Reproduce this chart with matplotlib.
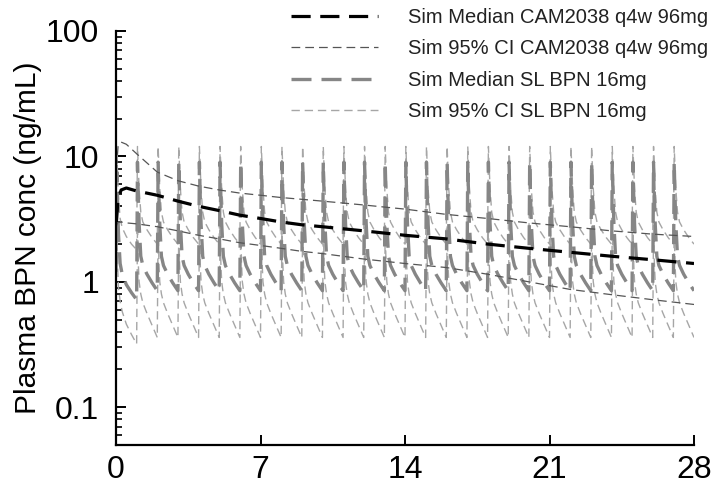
import numpy as np
import matplotlib
matplotlib.use("Agg")
import matplotlib.pyplot as plt
from matplotlib.ticker import LogLocator, NullFormatter, FixedLocator

plt.rcParams['font.family'] = ['Liberation Sans', 'DejaVu Sans']

# ---- CAM2038 q4w 96mg (simulated median and 95% CI) ----
cam_t = [0.02, 0.1, 0.25, 0.5, 1, 2, 3, 4, 5, 6, 7, 8, 9, 10, 12, 14, 16, 18, 20, 22, 24, 26, 28]
cam_med = [3.0, 4.6, 5.4, 5.6, 5.3, 4.9, 4.4, 4.0, 3.7, 3.4, 3.2, 3.0, 2.85, 2.75, 2.55, 2.35,
           2.2, 2.0, 1.85, 1.72, 1.6, 1.5, 1.4]
cam_hi = [8.0, 12.0, 13.0, 12.5, 10.5, 7.5, 6.4, 5.8, 5.4, 5.1, 4.9, 4.7, 4.55, 4.4, 4.1, 3.8,
          3.45, 3.2, 2.95, 2.75, 2.55, 2.4, 2.3]
cam_lo = [2.8, 3.0, 3.0, 2.95, 2.9, 2.75, 2.55, 2.35, 2.2, 2.05, 1.95, 1.85, 1.75, 1.68, 1.52, 1.4,
          1.3, 1.15, 1.0, 0.87, 0.79, 0.72, 0.66]

# ---- SL BPN 16mg daily: within-day profile (days after dose) ----
sl_dose_days = list(range(0, 28))
sl_offsets = [0.0, 0.04, 0.08, 0.12, 0.2, 0.3, 0.5, 0.75, 1.0]
# first dosing day
sl_day1_med = [1.2, 7.5, 4.0, 2.4, 1.4, 1.15, 0.95, 0.82, 0.72]
sl_day1_hi = [2.6, 11.0, 7.0, 4.8, 3.2, 2.7, 2.3, 2.0, 1.8]
sl_day1_lo = [0.6, 2.6, 1.3, 0.9, 0.7, 0.58, 0.46, 0.38, 0.32]
# steady-state days
sl_ss_med = [0.85, 9.0, 4.8, 2.9, 1.6, 1.35, 1.15, 0.98, 0.85]
sl_ss_hi = [2.0, 12.0, 8.0, 5.5, 3.6, 3.0, 2.6, 2.25, 2.0]
sl_ss_lo = [0.36, 2.8, 1.4, 1.0, 0.8, 0.68, 0.56, 0.45, 0.36]

labels = ["Sim Median CAM2038 q4w 96mg", "Sim 95% CI CAM2038 q4w 96mg",
          "Sim Median SL BPN 16mg", "Sim 95% CI SL BPN 16mg"]
yticks = [0.1, 1, 10, 100]
ytick_labels = ["0.1", "1", "10", "100"]
xticks = [0, 7, 14, 21, 28]


def build_sl(day1, ss):
    t = [o for o in sl_offsets]
    c = list(day1)
    for d in sl_dose_days[1:]:
        t += [d + o for o in sl_offsets[1:]]
        c += list(ss[1:])
    return np.array(t), np.array(c)


fig = plt.figure(figsize=(7.12, 4.91), dpi=100)
ax = fig.add_axes([116 / 712, 1 - 445 / 491, (694 - 116) / 712, (445 - 31) / 491])

t_lo, c_lo = build_sl(sl_day1_lo, sl_ss_lo)
t_hi, c_hi = build_sl(sl_day1_hi, sl_ss_hi)
t_med, c_med = build_sl(sl_day1_med, sl_ss_med)

ci_sl_color = '#a6a6a6'
ci_cam_color = '#555555'
med_sl_color = '#868686'

l_sl_lo, = ax.plot(t_lo, c_lo, color=ci_sl_color, lw=1.0, dashes=(6, 3.5))
ax.plot(t_hi, c_hi, color=ci_sl_color, lw=1.0, dashes=(6, 3.5))
l_sl_med, = ax.plot(t_med, c_med, color=med_sl_color, lw=2.4, dashes=(6, 3))

l_cam_lo, = ax.plot(cam_t, cam_lo, color=ci_cam_color, lw=0.9, dashes=(7, 4))
ax.plot(cam_t, cam_hi, color=ci_cam_color, lw=0.9, dashes=(7, 4))
l_cam_med, = ax.plot(cam_t, cam_med, color='black', lw=2.3, dashes=(6, 3))

ax.set_yscale('log')
ax.set_ylim(0.05, 100)
ax.set_xlim(0, 28)
ax.yaxis.set_major_locator(FixedLocator(yticks))
ax.set_yticklabels(ytick_labels)
ax.yaxis.set_minor_locator(LogLocator(base=10, subs=np.arange(2, 10)))
ax.yaxis.set_minor_formatter(NullFormatter())
ax.set_xticks(xticks)
ax.set_xticklabels([str(x) for x in xticks])

for s in ['top', 'right']:
    ax.spines[s].set_visible(False)
for s in ['left', 'bottom']:
    ax.spines[s].set_linewidth(1.6)

ax.tick_params(axis='both', which='major', direction='in', length=7, width=1.4,
               labelsize=23, colors='black')
ax.tick_params(axis='y', which='minor', direction='in', length=4.5, width=1.2)
ax.tick_params(axis='y', which='major', pad=12)
ax.tick_params(axis='x', which='major', pad=7)
ax.set_ylabel("Plasma BPN conc (ng/mL)", fontsize=21.5, labelpad=3)

leg = fig.legend([l_cam_med, l_cam_lo, l_sl_med, l_sl_lo], labels,
                 loc='upper left', bbox_to_anchor=(291 / 712, 1 - 8 / 491),
                 frameon=False, fontsize=14.5, handlelength=4.3, handletextpad=1.5,
                 labelspacing=0.62, borderpad=0, borderaxespad=0)
for txt in leg.get_texts():
    txt.set_color('#222222')

fig.savefig("out.png", dpi=100)
